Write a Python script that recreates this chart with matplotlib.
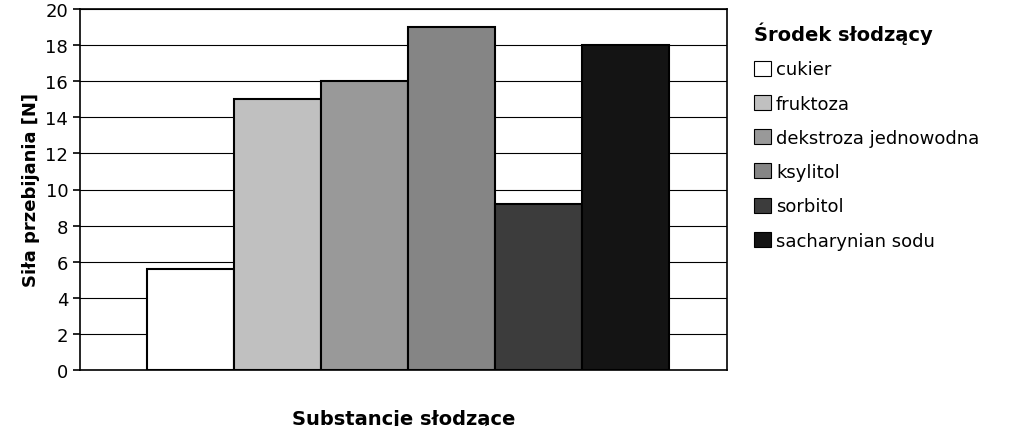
import matplotlib.pyplot as plt
import numpy as np

categories = ['cukier', 'fruktoza', 'dekstroza jednowodna', 'ksylitol', 'sorbitol', 'sacharynian sodu']
values = [5.6, 15, 16, 19, 9.2, 18]
colors = ['#ffffff', '#c0c0c0', '#999999', '#858585', '#3c3c3c', '#141414']
yticks = np.arange(0, 21, 2)

fig = plt.figure(figsize=(10.23, 4.27), dpi=100)
ax = fig.add_axes([80/1023, 56/427, 647/1023, 361/427])

width = 87 / 647 * 7.44
x0 = 67 / 647 * 7.44
for i, (c, v, col) in enumerate(zip(categories, values, colors)):
    ax.bar(x0 + i * width, v, width=width, align='edge', color=col,
           edgecolor='black', linewidth=1.5, label=c, zorder=3)

ax.set_xlim(0, 7.44)
ax.set_ylim(0, 20)
ax.set_yticks(yticks)
ax.set_xticks([])
ax.tick_params(axis='y', labelsize=13, length=5, width=1.2)
ax.grid(axis='y', color='black', linewidth=0.8, zorder=0)
for s in ax.spines.values():
    s.set_linewidth(1.2)
ax.set_ylabel('Siła przebijania [N]', fontsize=13, fontweight='bold')
ax.set_xlabel('Substancje słodzące', fontsize=14, fontweight='bold', labelpad=28)

leg = fig.legend(loc='upper left', bbox_to_anchor=(738/1023, 0.985), frameon=False,
                 fontsize=13, handlelength=0.9, handleheight=0.9, handletextpad=0.3,
                 labelspacing=0.9, title='Środek słodzący',
                 title_fontproperties={'weight': 'bold', 'size': 14})
leg._legend_box.align = 'left'
for h in leg.legend_handles:
    h.set_linewidth(0.8)

fig.savefig('out.png', dpi=100)
